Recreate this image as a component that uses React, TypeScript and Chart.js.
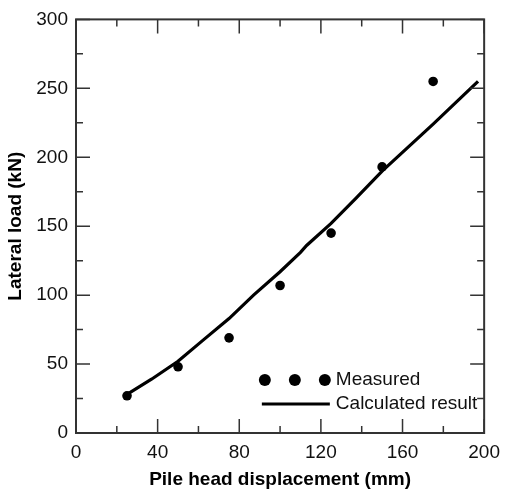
import { useEffect, useRef } from 'react';
import { Chart, registerables } from 'chart.js';

Chart.register(...registerables);

const FONT = '"Liberation Sans", Arial, Helvetica, sans-serif';

const measuredX = [25, 50, 75, 100, 125, 150, 175];
const measuredY = [27, 48, 69, 107, 145, 193, 255];

const calcX = [25, 37, 50, 62, 75, 87, 100, 110, 113, 125, 137, 150, 175, 197];
const calcY = [28, 39, 52, 67, 83, 100, 117, 131, 136, 152, 170, 190, 224, 255];

const xTickValues = [0, 40, 80, 120, 160, 200];
const xMinorValues = [20, 60, 100, 140, 180];
const yTickValues = [0, 50, 100, 150, 200, 250, 300];
const yMinorValues = [25, 75, 125, 175, 225, 275];

const legendLabels = ['Measured', 'Calculated result'];

const framePlugin = {
  id: 'frameTicksLegend',
  afterDraw(chart: any) {
    const { ctx, chartArea, scales } = chart;
    const { left, top, right, bottom } = chartArea;
    const xs = scales.x;
    const ys = scales.y;
    ctx.save();
    ctx.strokeStyle = '#333';
    ctx.lineWidth = 2;
    ctx.strokeRect(left, top, right - left, bottom - top);
    ctx.lineWidth = 1.5;
    const drawX = (v: number, len: number) => {
      const px = xs.getPixelForValue(v);
      ctx.beginPath();
      ctx.moveTo(px, bottom);
      ctx.lineTo(px, bottom - len);
      ctx.moveTo(px, top);
      ctx.lineTo(px, top + len);
      ctx.stroke();
    };
    const drawY = (v: number, len: number) => {
      const py = ys.getPixelForValue(v);
      ctx.beginPath();
      ctx.moveTo(left, py);
      ctx.lineTo(left + len, py);
      ctx.moveTo(right, py);
      ctx.lineTo(right - len, py);
      ctx.stroke();
    };
    xTickValues.forEach((v) => drawX(v, 14));
    xMinorValues.forEach((v) => drawX(v, 7));
    yTickValues.forEach((v) => drawY(v, 14));
    yMinorValues.forEach((v) => drawY(v, 7));

    // legend inside plot area (bottom right)
    const lx = left + (right - left) * 0.448 + 3;
    const ly1 = bottom - 53;
    const ly2 = bottom - 29;
    ctx.fillStyle = '#000';
    [0, 30, 60].forEach((dx) => {
      ctx.beginPath();
      ctx.arc(lx + 3 + dx, ly1, 6, 0, Math.PI * 2);
      ctx.fill();
    });
    ctx.strokeStyle = '#000';
    ctx.lineWidth = 3.2;
    ctx.beginPath();
    ctx.moveTo(lx, ly2);
    ctx.lineTo(lx + 68, ly2);
    ctx.stroke();
    ctx.font = '19px ' + FONT;
    ctx.textBaseline = 'middle';
    ctx.textAlign = 'left';
    ctx.fillStyle = '#111';
    ctx.fillText(legendLabels[0], lx + 74, ly1);
    ctx.fillText(legendLabels[1], lx + 74, ly2);
    ctx.restore();
  },
};

export default function App() {
  const ref = useRef<HTMLCanvasElement>(null);
  useEffect(() => {
    document.body.style.margin = '0';
    const canvas = ref.current!;
    const chart = new Chart(canvas, {
      type: 'scatter',
      data: {
        datasets: [
          {
            label: legendLabels[0],
            data: measuredX.map((x, i) => ({ x, y: measuredY[i] })),
            pointRadius: 4.8,
            pointHoverRadius: 4.8,
            backgroundColor: '#000',
            borderColor: '#000',
            borderWidth: 0,
            showLine: false,
            order: 0,
          },
          {
            label: legendLabels[1],
            data: calcX.map((x, i) => ({ x, y: calcY[i] })),
            showLine: true,
            pointRadius: 0,
            borderColor: '#000',
            borderWidth: 3.2,
            tension: 0,
            order: 1,
          },
        ],
      },
      options: {
        responsive: false,
        animation: false,
        layout: { padding: { top: 19, right: 17, left: 0, bottom: 0 } },
        plugins: { legend: { display: false }, tooltip: { enabled: false } },
        scales: {
          x: {
            type: 'linear',
            min: 0,
            max: 200,
            afterBuildTicks: (s: any) => {
              s.ticks = xTickValues.map((v) => ({ value: v }));
            },
            afterFit: (s: any) => {
              s.height = 61;
            },
            grid: { display: false, drawTicks: false },
            border: { display: false },
            ticks: {
              padding: 8,
              color: '#111',
              font: { family: FONT, size: 19 },
              maxRotation: 0,
            },
            title: {
              display: true,
              text: 'Pile head displacement (mm)',
              color: '#000',
              font: { family: FONT, size: 19, weight: 'bold' },
              padding: { top: 0, bottom: 3 },
            },
          },
          y: {
            type: 'linear',
            min: 0,
            max: 300,
            afterBuildTicks: (s: any) => {
              s.ticks = yTickValues.map((v) => ({ value: v }));
            },
            afterFit: (s: any) => {
              s.width = 76;
            },
            grid: { display: false, drawTicks: false },
            border: { display: false },
            ticks: {
              padding: 8,
              color: '#111',
              font: { family: FONT, size: 19 },
            },
            title: {
              display: true,
              text: 'Lateral load (kN)',
              color: '#000',
              font: { family: FONT, size: 19, weight: 'bold' },
              padding: { top: 4, bottom: 0 },
            },
          },
        },
      },
      plugins: [framePlugin],
    });
    return () => chart.destroy();
  }, []);
  return (
    <div style={{ width: 508, height: 494, background: '#fff' }}>
      <canvas ref={ref} width={508} height={494} style={{ display: 'block' }} />
    </div>
  );
}
